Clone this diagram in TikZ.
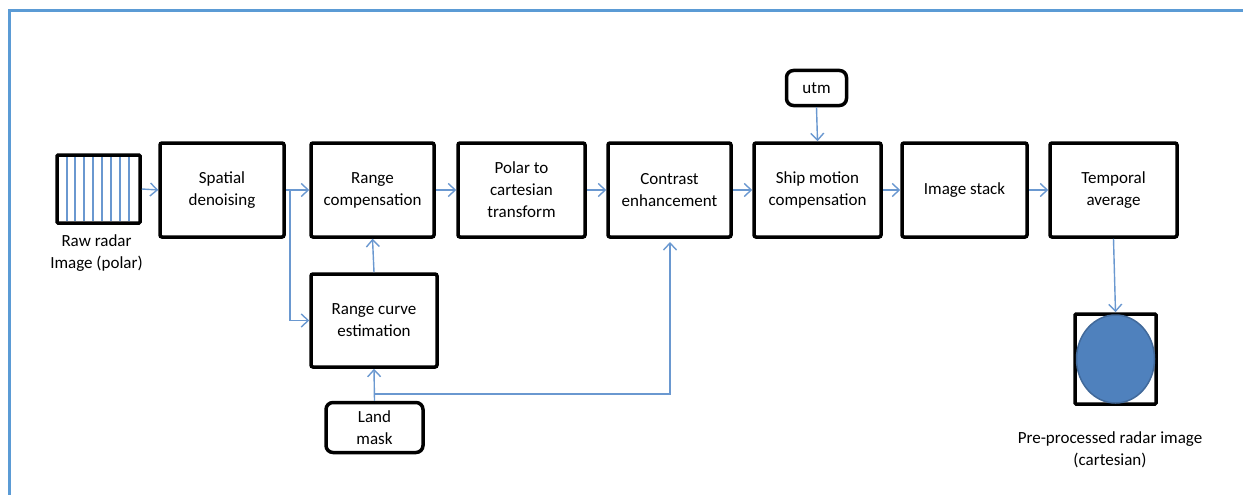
\documentclass[tikz,border=0pt]{standalone}
\usepackage{fontspec}
\setmainfont{Carlito}
\usetikzlibrary{arrows.meta}
\definecolor{framecol}{HTML}{5B9BD5}
\definecolor{arrcol}{HTML}{6A98D0}
\definecolor{circfill}{HTML}{4F81BD}
\definecolor{circdraw}{HTML}{41699A}
\begin{document}
\begin{tikzpicture}[x=1pt,y=-1pt,
  font=\fontsize{17}{22}\selectfont,
  box/.style={draw=black,line width=3.5pt,rounded corners=2pt,minimum width=124pt,minimum height=94pt,align=center,inner sep=2pt},
  pill/.style={draw=black,line width=3.5pt,rounded corners=7pt,align=center,inner sep=2pt},
  arr/.style={draw=arrcol,line width=1.4pt,-{Straight Barb[length=7pt,width=13pt,line width=1.4pt]}},
  ln/.style={draw=arrcol,line width=1.4pt},
  lbl/.style={align=center,inner sep=0pt}]
\useasboundingbox (0,0) rectangle (1243,495);
% frame
\draw[framecol,line width=3pt] (9,500) -- (9,11) -- (1250,11);
% raw radar image
\node[draw=black,line width=3.5pt,rounded corners=1pt,minimum width=83pt,minimum height=68pt,inner sep=0pt] (raw) at (98.5,189) {};
\foreach \x in {67,75,84,93,102,111,120,129} \draw[ln,line width=1.1pt] (\x,157) -- (\x,221);
\node[lbl] (rawlbl) at (96.5,253) {Raw radar\\Image (polar)};
% main boxes
\node[box] (spatial) at (222,190) {Spatial\\denoising};
\node[box,minimum width=123pt] (range) at (372.5,190) {Range\\compensation};
\node[box,minimum width=127pt] (polar) at (521.5,190) {Polar to\\cartesian\\transform};
\node[box,minimum width=123pt] (contrast) at (669.5,190) {Contrast\\enhancement};
\node[box,minimum width=127pt] (ship) at (817.5,190) {Ship motion\\compensation};
\node[box,minimum width=125pt] (stack) at (964.5,190) {Image stack};
\node[box,minimum width=127pt] (temporal) at (1113.5,190) {Temporal\\average};
\node[pill,minimum width=60pt,minimum height=35pt] (utm) at (816.5,88) {utm};
\node[box,minimum width=126pt,minimum height=93pt] (rce) at (374,320.5) {Range curve\\estimation};
\node[pill,minimum width=97pt,minimum height=50pt,inner sep=0pt] (land) at (374.5,427.5) {Land\\mask};
% output image
\node[draw=black,line width=3.5pt,rounded corners=1pt,minimum width=81pt,minimum height=90pt,inner sep=0pt] (out) at (1115.5,359) {};
\draw[fill=circfill,draw=circdraw,line width=1.5pt] (out.center) ellipse [x radius=39pt,y radius=44pt];
\node[lbl] (outlbl) at (1110,450) {Pre-processed radar image\\(cartesian)};
% connectors
\draw[arr] (raw.east) -- (spatial.west);
\draw[arr] (spatial.east) -- (range.west);
\coordinate (br) at (290,190);
\draw[arr] (br) |- (rce.west);
\draw[arr] (rce.north) -- (range.south);
\draw[arr] (range.east) -- (polar.west);
\draw[arr] (polar.east) -- (contrast.west);
\draw[arr] (contrast.east) -- (ship.west);
\draw[arr] (ship.east) -- (stack.west);
\draw[arr] (stack.east) -- (temporal.west);
\draw[arr] (utm.south) -- (ship.north);
\draw[arr] (land.north) -- (rce.south);
\coordinate (lm) at (375,394);
\coordinate (ce) at (670,242);
\draw[arr] (lm) -| (ce);
\draw[arr] (temporal.south) -- (out.north);
\end{tikzpicture}
\end{document}
